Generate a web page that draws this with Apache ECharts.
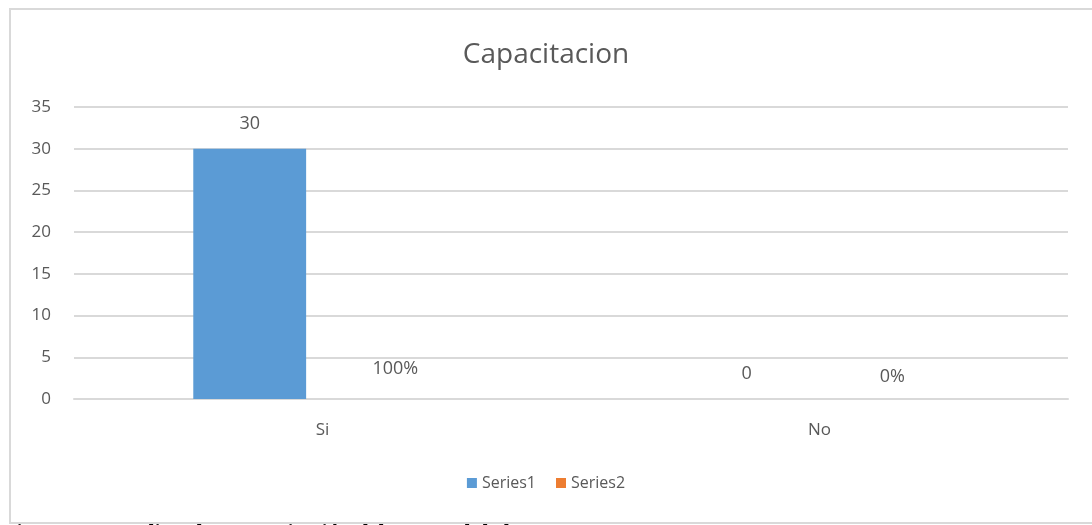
<!DOCTYPE html>
<html>
<head>
<meta charset="utf-8">
<script src="https://cdn.jsdelivr.net/npm/echarts@6/dist/echarts.min.js"></script>
<style>
    html, body { margin: 0; padding: 0; background: #fff; }
    #frame {
        position: absolute;
        left: 9px;
        top: 8px;
        width: 1100px;
        height: 516px;
        border: 2px solid #d9d9d9;
        box-sizing: border-box;
    }
    #ChartBar {
        position: absolute;
        left: 0;
        top: 0;
        width: 1092px;
        height: 525px;
    }
</style>
</head>
<body>
<div id="frame"></div>
<div id="ChartBar"></div>
<script>
const categories = ['Si', 'No']
const series1 = [30, 0]
const series2 = [1, 0]   // shown as percentages
const yTicks = [0, 5, 10, 15, 20, 25, 30, 35]
const legendNames = ['Series1', 'Series2']
const color = ['#5B9BD5', '#ED7D31']

const textColor = '#595959'
const font = '"Open Sans", "Liberation Sans", sans-serif'

let dom = echarts.init(document.getElementById('ChartBar'))

let option = {
    animation: false,
    title: {
        text: 'Capacitacion',
        left: 'center',
        top: 36,
        textStyle: {
            fontFamily: font,
            fontWeight: 'normal',
            fontSize: 28,
            color: textColor
        }
    },
    legend: {
        top: 470,
        left: 'center',
        itemWidth: 10,
        itemHeight: 10,
        itemGap: 20,
        textStyle: {
            fontFamily: font,
            fontSize: 16,
            color: textColor
        },
        data: [
            { name: legendNames[0], icon: 'rect', itemStyle: { color: color[0] } },
            { name: legendNames[1], icon: 'rect', itemStyle: { color: color[1] } }
        ]
    },
    grid: {
        left: 74,
        right: 24,
        top: 107,
        bottom: 126
    },
    xAxis: {
        type: 'category',
        data: categories,
        axisTick: { show: false },
        axisLine: { lineStyle: { color: '#d9d9d9', width: 2 } },
        axisLabel: {
            margin: 23,
            fontFamily: font,
            fontSize: 17,
            color: textColor
        }
    },
    yAxis: {
        type: 'value',
        min: yTicks[0],
        max: yTicks[yTicks.length - 1],
        interval: yTicks[1] - yTicks[0],
        axisTick: { show: false },
        axisLine: { show: false },
        axisLabel: {
            margin: 23,
            fontFamily: font,
            fontSize: 17,
            color: textColor
        },
        splitLine: { lineStyle: { color: '#d9d9d9', width: 2 } }
    },
    series: [
        {
            name: legendNames[0],
            type: 'bar',
            data: series1,
            barGap: '29%',
            barCategoryGap: '48%',
            itemStyle: { color: color[0] },
            label: {
                show: true,
                position: 'top',
                distance: 16,
                fontFamily: font,
                fontSize: 18,
                color: textColor
            }
        },
        {
            name: legendNames[1],
            type: 'bar',
            data: series2,
            // the small bar does not show in the source picture
            itemStyle: { color: 'rgba(0,0,0,0)' },
            label: {
                show: true,
                position: 'top',
                distance: 13,
                fontFamily: font,
                fontSize: 18,
                color: textColor,
                formatter: (p) => Math.round(p.value * 100) + '%'
            }
        }
    ],
    graphic: [{
        type: 'text',
        left: 3,
        top: 522,
        style: {
            text: 'Figura 17 Estudio sobre capacitación del personal de la empresa',
            fontFamily: '"Liberation Serif", serif',
            fontWeight: 'bold',
            fontSize: 22,
            fill: '#000'
        }
    }]
}
dom.setOption(option)
</script>
</body>
</html>
